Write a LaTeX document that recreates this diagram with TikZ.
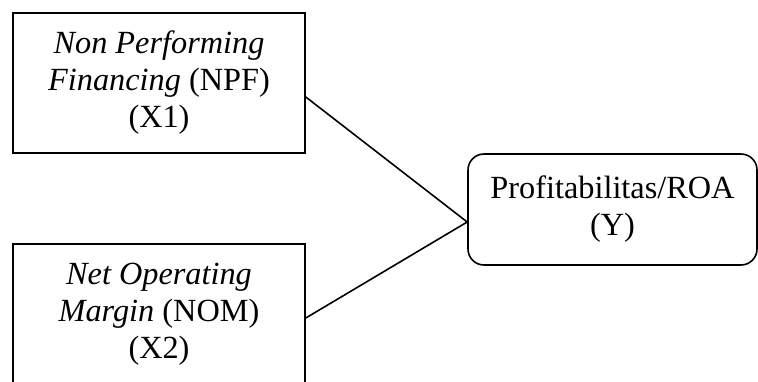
\documentclass[tikz,border=0pt]{standalone}
\usepackage{fontspec}
\setmainfont{Liberation Serif}
\usetikzlibrary{positioning}

\begin{document}
\begin{tikzpicture}[
  x=1pt,y=-1pt,
  var/.style={draw,line width=1.6pt,minimum width=292pt,minimum height=140pt,
    align=center,font=\fontsize{32.3}{37}\selectfont},
  dep/.style={draw,line width=1.6pt,rounded corners=16pt,minimum width=289pt,
    minimum height=111pt,align=center,font=\fontsize{32.3}{37}\selectfont},
  link/.style={line width=1.6pt}
]
\clip (0,0) rectangle (758,381);
\node[var] (x1) at (159,83) {\textit{Non Performing}\\\textit{Financing} (NPF)\\(X1)};
\node[var] (x2) at (159,314) {\textit{Net Operating}\\\textit{Margin} (NOM)\\(X2)};
\node[dep] (y) at (612.5,209.5) {Profitabilitas/ROA\\(Y)};
\draw[link] ([yshift=-14pt]x1.east) -- ([yshift=-12.5pt]y.west);
\draw[link] ([yshift=-4pt]x2.east) -- ([yshift=-12.5pt]y.west);
\end{tikzpicture}
\end{document}
